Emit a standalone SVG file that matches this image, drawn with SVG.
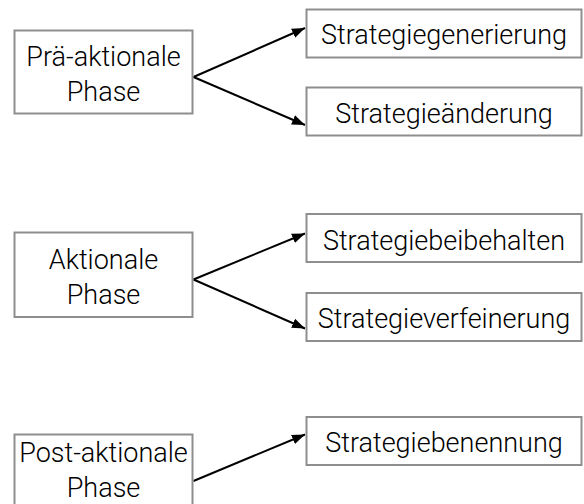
<svg xmlns="http://www.w3.org/2000/svg" width="584" height="504" viewBox="0 0 584 504">
  <style>
    .box { fill: #ffffff; stroke: #8e8e8e; stroke-width: 2; }
    .lbl { font-family: Roboto, "Liberation Sans", Arial, sans-serif; font-weight: 300; font-size: 27px; fill: #000000; text-anchor: middle; }
    .edge { stroke: #000000; stroke-width: 2; fill: none; marker-end: url(#arrow); }
  </style>
  <defs>
    <marker id="arrow" markerUnits="userSpaceOnUse" markerWidth="14" markerHeight="12" viewBox="0 0 14 12" refX="13" refY="6" orient="auto">
      <path d="M0,1 L13,6 L0,11 Z" fill="#000000"/>
    </marker>
  </defs>
  <rect width="584" height="504" fill="#ffffff"/>

  <g id="connectors">
    <line class="edge" x1="193.5" y1="77" x2="305" y2="28"/>
    <line class="edge" x1="193.5" y1="77" x2="305" y2="125"/>
    <line class="edge" x1="193.5" y1="279.5" x2="305" y2="233.5"/>
    <line class="edge" x1="193.5" y1="279.5" x2="305" y2="328.5"/>
    <line class="edge" x1="193.5" y1="481" x2="305" y2="434.5"/>
  </g>

  <g id="prae-aktionale">
    <rect class="box" x="14.5" y="30.5" width="178" height="83"/>
    <text class="lbl" x="103.5" y="66">Prä-aktionale</text>
    <text class="lbl" x="103.5" y="101">Phase</text>
  </g>
  <g id="strategiegenerierung">
    <rect class="box" x="306.5" y="9.5" width="275" height="48"/>
    <text class="lbl" x="444" y="44">Strategiegenerierung</text>
  </g>
  <g id="strategieaenderung">
    <rect class="box" x="306.5" y="87.5" width="275" height="48"/>
    <text class="lbl" x="444" y="122.5">Strategieänderung</text>
  </g>

  <g id="aktionale">
    <rect class="box" x="14.5" y="232.5" width="178" height="84.5"/>
    <text class="lbl" x="103.5" y="268.5">Aktionale</text>
    <text class="lbl" x="103.5" y="303.5">Phase</text>
  </g>
  <g id="strategiebeibehalten">
    <rect class="box" x="306.5" y="214" width="275" height="48"/>
    <text class="lbl" x="444" y="249.5">Strategiebeibehalten</text>
  </g>
  <g id="strategieverfeinerung">
    <rect class="box" x="306.5" y="293" width="275" height="48"/>
    <text class="lbl" x="444" y="328">Strategieverfeinerung</text>
  </g>

  <g id="post-aktionale">
    <rect class="box" x="14.5" y="434.5" width="178" height="80"/>
    <text class="lbl" x="103.5" y="462">Post-aktionale</text>
    <text class="lbl" x="103.5" y="497">Phase</text>
  </g>
  <g id="strategiebenennung">
    <rect class="box" x="306.5" y="417" width="275" height="48"/>
    <text class="lbl" x="444" y="451.5">Strategiebenennung</text>
  </g>
</svg>
